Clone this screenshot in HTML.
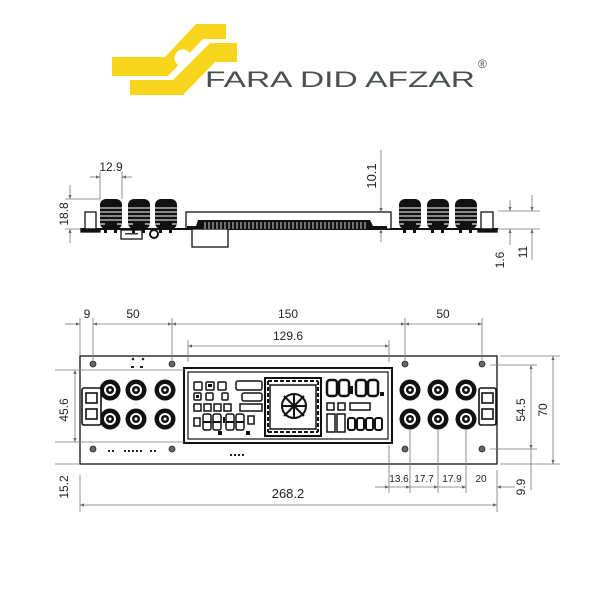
<!DOCTYPE html>
<html><head><style>
html,body{margin:0;padding:0;background:#fff}
svg{display:block}
text{font-family:"Liberation Sans",sans-serif;fill:#222}
</style></head><body>
<svg width="600" height="600" viewBox="0 0 600 600" xmlns="http://www.w3.org/2000/svg">
<defs>
<marker id="a" viewBox="0 0 10 10" refX="10" refY="5" markerWidth="6" markerHeight="5" orient="auto-start-reverse"><path d="M0,1 L10,5 L0,9 z" fill="#666"/></marker>
<g id="sink">
 <rect x="0" y="0" width="22" height="30" rx="6" fill="#111"/>
 <g stroke="#fff" stroke-width="1.1">
  <line x1="0" y1="9" x2="22" y2="9"/>
  <line x1="0" y1="13" x2="22" y2="13"/>
  <line x1="0" y1="17" x2="22" y2="17"/>
  <line x1="0" y1="21" x2="22" y2="21"/>
  <line x1="0" y1="25" x2="5" y2="25"/><line x1="17" y1="25" x2="22" y2="25"/>
 </g>
 <rect x="4" y="30" width="3" height="4" fill="#111"/><rect x="14" y="30" width="3" height="4" fill="#111"/>
</g>
<g id="bnc">
 <circle r="10.5" fill="#111"/><circle r="6" fill="#fff"/><circle r="4" fill="#111"/><circle r="1.5" fill="#fff"/>
</g>
<g id="hole"><circle r="3" fill="#666" stroke="#222" stroke-width="0.8"/></g>
</defs>

<!-- logo -->
<polygon points="112,57 165,57 196,24 226,24 226,39 203,39 168,76 112,76" fill="#f7d51d"/>
<polygon points="210,43 237,43 237,62 215,62 183,95 130,95 130,80 173,80" fill="#f7d51d"/>
<circle cx="183" cy="58" r="8.5" fill="#fff"/>
<text x="205" y="87" font-size="22" textLength="270" lengthAdjust="spacingAndGlyphs" style="fill:#4a4f52">FARA DID AFZAR</text>
<text x="478" y="68" font-size="12" style="fill:#4a4f52">®</text>

<!-- side view -->
<g stroke="#111" fill="none" stroke-width="1.3">
 <line x1="80" y1="229" x2="498" y2="229" stroke-width="2"/>
 <rect x="85" y="212" width="11" height="17" fill="#fff"/>
 <rect x="81" y="229" width="19" height="3" fill="#111"/>
 <rect x="121" y="230" width="21" height="9" fill="#fff"/>
 <circle cx="154" cy="234" r="4" fill="#fff" stroke-width="2"/>
 <rect x="186" y="212" width="205" height="17" fill="#fff"/>
 <rect x="192" y="229" width="36" height="18" fill="#fff"/>
 <rect x="481" y="212" width="12" height="17" fill="#fff"/>
 <rect x="478" y="229" width="19" height="3" fill="#111"/>
</g>
<g fill="#111">
 <rect x="187" y="226" width="200" height="3"/>
 <path d="M196 226 L198 220 L370 220 L373 226 z"/>
</g>
<g stroke="#fff" stroke-width="0.8">
 <path d="M205 222 V229 M209 222 V229 M213 222 V229 M217 222 V229 M221 222 V229 M225 222 V229 M229 222 V229 M233 222 V229 M237 222 V229 M241 222 V229 M245 222 V229 M249 222 V229 M253 222 V229 M257 222 V229 M261 222 V229 M265 222 V229 M269 222 V229 M273 222 V229 M277 222 V229 M281 222 V229 M285 222 V229 M289 222 V229 M293 222 V229 M297 222 V229 M301 222 V229 M305 222 V229 M309 222 V229 M313 222 V229 M317 222 V229 M321 222 V229 M325 222 V229 M329 222 V229 M333 222 V229 M337 222 V229 M341 222 V229 M345 222 V229 M349 222 V229 M353 222 V229 M357 222 V229 M361 222 V229 M365 222 V229"/>
</g>
<g fill="#333"><rect x="125" y="233" width="13" height="1.5"/></g>
<use href="#sink" x="100" y="199"/><use href="#sink" x="128" y="199"/><use href="#sink" x="155" y="199"/>
<use href="#sink" x="399" y="199"/><use href="#sink" x="427" y="199"/><use href="#sink" x="455" y="199"/>

<g stroke="#777" stroke-width="0.8" fill="none">
 <line x1="90" y1="177" x2="100" y2="177" marker-end="url(#a)"/>
 <line x1="132" y1="177" x2="122" y2="177" marker-end="url(#a)"/>
 <line x1="100" y1="172" x2="100" y2="199"/><line x1="122" y1="172" x2="122" y2="199"/>
 <line x1="65" y1="199" x2="100" y2="199"/><line x1="65" y1="229" x2="82" y2="229"/>
 <line x1="70" y1="185" x2="70" y2="199" marker-end="url(#a)"/>
 <line x1="70" y1="243" x2="70" y2="229" marker-end="url(#a)"/>
 <line x1="381" y1="150" x2="381" y2="212" marker-end="url(#a)"/>
 <line x1="381" y1="242" x2="381" y2="229" marker-end="url(#a)"/>
 <line x1="498" y1="211" x2="540" y2="211"/><line x1="498" y1="229" x2="540" y2="229"/>
 <line x1="510" y1="200" x2="510" y2="211" marker-end="url(#a)"/>
 <line x1="510" y1="245" x2="510" y2="229" marker-end="url(#a)"/>
 <line x1="532" y1="195" x2="532" y2="211" marker-end="url(#a)"/>
 <line x1="532" y1="260" x2="532" y2="229" marker-end="url(#a)"/>
</g>
<text x="111" y="171" font-size="12" text-anchor="middle">12.9</text>
<text transform="translate(68,214) rotate(-90)" font-size="12" text-anchor="middle">18.8</text>
<text transform="translate(376,176) rotate(-90)" font-size="13" text-anchor="middle">10.1</text>
<text transform="translate(504,260) rotate(-90)" font-size="12" text-anchor="middle">1.6</text>
<text transform="translate(527,252) rotate(-90)" font-size="12" text-anchor="middle">11</text>

<!-- front view -->
<rect x="80" y="356" width="417" height="108" fill="#fff" stroke="#111" stroke-width="1.3"/>
<use href="#hole" x="93" y="364"/><use href="#hole" x="172" y="364"/><use href="#hole" x="93" y="449"/><use href="#hole" x="172" y="449"/>
<use href="#hole" x="405" y="364"/><use href="#hole" x="482" y="364"/><use href="#hole" x="405" y="449"/><use href="#hole" x="482" y="449"/>
<use href="#bnc" x="110" y="390"/><use href="#bnc" x="136" y="390"/><use href="#bnc" x="165" y="390"/>
<use href="#bnc" x="110" y="419"/><use href="#bnc" x="136" y="419"/><use href="#bnc" x="165" y="419"/>
<use href="#bnc" x="410" y="390"/><use href="#bnc" x="438" y="390"/><use href="#bnc" x="466" y="390"/>
<use href="#bnc" x="410" y="419"/><use href="#bnc" x="438" y="419"/><use href="#bnc" x="466" y="419"/>
<g fill="#fff" stroke="#111" stroke-width="1.6">
 <rect x="82" y="388" width="19" height="37" rx="2"/>
 <rect x="86" y="393" width="11" height="10"/><rect x="86" y="409" width="11" height="10"/>
 <rect x="479" y="388" width="17" height="37" rx="2"/>
 <rect x="482" y="393" width="11" height="10"/><rect x="482" y="409" width="11" height="10"/>
</g>
<g fill="#222">
 <circle cx="133" cy="359" r="1.3"/><circle cx="143" cy="359" r="1.3"/>
 <rect x="131" y="366" width="3" height="2"/><rect x="140" y="366" width="3" height="2"/>
 <rect x="108" y="450" width="2" height="2"/><rect x="112" y="450" width="2" height="2"/>
 <rect x="124" y="450" width="2" height="2"/><rect x="128" y="450" width="2" height="2"/><rect x="132" y="450" width="2" height="2"/><rect x="136" y="450" width="2" height="2"/><rect x="140" y="450" width="2" height="2"/>
 <rect x="150" y="450" width="2" height="2"/><rect x="154" y="450" width="2" height="2"/>
 <rect x="230" y="454" width="2" height="2"/><rect x="234" y="454" width="2" height="2"/><rect x="238" y="454" width="2" height="2"/><rect x="242" y="454" width="2" height="2"/>
</g>
<!-- LCD -->
<rect x="184" y="368" width="208" height="75" fill="#fff" stroke="#111" stroke-width="2"/>
<rect x="188" y="372" width="200" height="67" fill="#fff" stroke="#111" stroke-width="1.2"/>
<g fill="#fff" stroke="#111" stroke-width="1.5">
 <rect x="194" y="382" width="8" height="8" rx="1"/><rect x="206" y="382" width="8" height="8" rx="1"/><rect x="218" y="382" width="8" height="8" rx="1"/>
 <rect x="236" y="381" width="26" height="9" rx="2"/>
 <rect x="194" y="393" width="7" height="7" rx="1"/><rect x="206" y="393" width="7" height="7" rx="1"/><rect x="222" y="393" width="6" height="7" rx="1"/>
 <rect x="242" y="393" width="20" height="8" rx="2"/>
 <rect x="194" y="404" width="7" height="7"/><rect x="204" y="404" width="7" height="7"/><rect x="214" y="404" width="7" height="7"/><rect x="224" y="404" width="7" height="7"/>
 <rect x="240" y="404" width="22" height="7"/>
 <rect x="194" y="418" width="6" height="8"/>
 <rect x="203" y="414" width="8" height="16" rx="2"/><rect x="213" y="414" width="8" height="16" rx="2"/><rect x="226" y="414" width="8" height="16" rx="2"/><rect x="236" y="414" width="8" height="16" rx="2"/>
 <rect x="248" y="416" width="6" height="8"/>
 <rect x="265" y="378" width="56" height="58" stroke-width="2"/>
 <rect x="270" y="385" width="46" height="44"/>
 <circle cx="294" cy="406" r="12" stroke-width="2"/>
 <rect x="327" y="380" width="10" height="16" rx="3" stroke-width="2.5"/><rect x="339" y="380" width="10" height="16" rx="3" stroke-width="2.5"/>
 <rect x="356" y="380" width="10" height="16" rx="3" stroke-width="2.5"/><rect x="368" y="380" width="10" height="16" rx="3" stroke-width="2.5"/>
 <rect x="327" y="403" width="7" height="7"/><rect x="338" y="403" width="7" height="7"/><rect x="350" y="403" width="20" height="7"/>
 <rect x="327" y="414" width="8" height="18"/><rect x="337" y="414" width="8" height="18"/>
 <rect x="348" y="418" width="7" height="12" rx="2" stroke-width="2"/><rect x="357" y="418" width="7" height="12" rx="2" stroke-width="2"/><rect x="366" y="418" width="7" height="12" rx="2" stroke-width="2"/><rect x="375" y="418" width="7" height="12" rx="2" stroke-width="2"/>
</g>
<g stroke="#111" stroke-width="2" fill="none">
 <path d="M268 381 H318 M268 432 H318 M268 381 V432 M318 381 V432" stroke-dasharray="4 2"/>
 <path d="M284 396 L304 416 M304 396 L284 416 M294 394 V418 M282 406 H306"/>
 <path d="M203 422 H211 M213 422 H221 M226 422 H234 M236 422 H244"/>
</g>
<g fill="#111">
 <rect x="223" y="417" width="2" height="6"/><rect x="218" y="431" width="4" height="4"/><rect x="246" y="431" width="4" height="4"/>
 <rect x="350" y="386" width="3" height="8"/><rect x="380" y="392" width="4" height="4"/>
 <rect x="196" y="395" width="3" height="3"/><rect x="208" y="384" width="4" height="3"/>
</g>

<!-- front dims -->
<g stroke="#777" stroke-width="0.8" fill="none">
 <line x1="65" y1="324" x2="80" y2="324" marker-end="url(#a)"/>
 <line x1="93" y1="324" x2="172" y2="324" marker-start="url(#a)" marker-end="url(#a)"/>
 <line x1="172" y1="324" x2="405" y2="324" marker-start="url(#a)" marker-end="url(#a)"/>
 <line x1="405" y1="324" x2="482" y2="324" marker-start="url(#a)" marker-end="url(#a)"/>
 <line x1="80" y1="318" x2="80" y2="356"/><line x1="93" y1="318" x2="93" y2="360"/>
 <line x1="172" y1="318" x2="172" y2="360"/><line x1="405" y1="318" x2="405" y2="360"/><line x1="482" y1="318" x2="482" y2="360"/>
 <line x1="188" y1="346" x2="389" y2="346" marker-start="url(#a)" marker-end="url(#a)"/>
 <line x1="188" y1="340" x2="188" y2="362"/><line x1="389" y1="340" x2="389" y2="362"/>
 <line x1="55" y1="370" x2="184" y2="370"/><line x1="55" y1="442" x2="184" y2="442"/>
 <line x1="55" y1="464" x2="80" y2="464"/>
 <line x1="75" y1="370" x2="75" y2="442" marker-start="url(#a)" marker-end="url(#a)"/>
 <line x1="80" y1="475" x2="80" y2="512"/>
 <line x1="80" y1="505" x2="497" y2="505" marker-start="url(#a)" marker-end="url(#a)"/>
 <line x1="497" y1="470" x2="497" y2="512"/>
 <line x1="490" y1="365" x2="537" y2="365"/><line x1="490" y1="449" x2="537" y2="449"/>
 <line x1="500" y1="356" x2="560" y2="356"/><line x1="500" y1="464" x2="560" y2="464"/>
 <line x1="531" y1="365" x2="531" y2="449" marker-start="url(#a)" marker-end="url(#a)"/>
 <line x1="553" y1="356" x2="553" y2="464" marker-start="url(#a)" marker-end="url(#a)"/>
 <line x1="531" y1="449" x2="531" y2="490"/>
 <line x1="375" y1="487" x2="389" y2="487" marker-end="url(#a)"/>
 <line x1="389" y1="487" x2="410" y2="487" marker-end="url(#a)"/>
 <line x1="410" y1="487" x2="438" y2="487" marker-end="url(#a)"/>
 <line x1="438" y1="487" x2="466" y2="487" marker-end="url(#a)"/>
 <line x1="515" y1="487" x2="497" y2="487" marker-end="url(#a)"/>
 <line x1="389" y1="445" x2="389" y2="493"/>
 <line x1="410" y1="429" x2="410" y2="493"/><line x1="438" y1="429" x2="438" y2="493"/><line x1="466" y1="429" x2="466" y2="493"/>
</g>
<text x="87" y="318" font-size="12" text-anchor="middle">9</text>
<text x="133" y="318" font-size="12" text-anchor="middle">50</text>
<text x="288" y="318" font-size="12" text-anchor="middle">150</text>
<text x="443" y="318" font-size="12" text-anchor="middle">50</text>
<text x="288" y="340" font-size="12" text-anchor="middle">129.6</text>
<text transform="translate(68,410) rotate(-90)" font-size="12" text-anchor="middle">45.6</text>
<text transform="translate(68,487) rotate(-90)" font-size="12" text-anchor="middle">15.2</text>
<text x="288" y="498" font-size="13" text-anchor="middle">268.2</text>
<text transform="translate(525,410) rotate(-90)" font-size="12" text-anchor="middle">54.5</text>
<text transform="translate(547,410) rotate(-90)" font-size="12" text-anchor="middle">70</text>
<text transform="translate(525,487) rotate(-90)" font-size="12" text-anchor="middle">9.9</text>
<text x="399" y="482" font-size="10" text-anchor="middle">13.6</text>
<text x="424" y="482" font-size="10" text-anchor="middle">17.7</text>
<text x="452" y="482" font-size="10" text-anchor="middle">17.9</text>
<text x="481" y="482" font-size="10" text-anchor="middle">20</text>
</svg>
</body></html>
